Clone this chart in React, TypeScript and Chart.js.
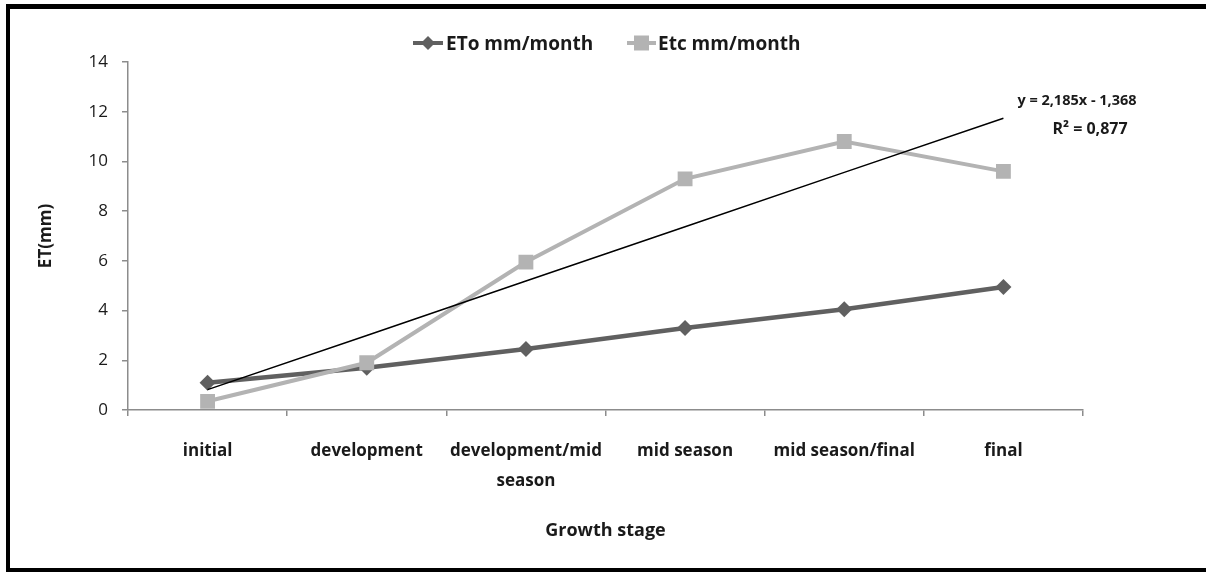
import React, { useEffect, useRef } from "react";
import { Chart, registerables } from "chart.js";

Chart.register(...registerables);

const categories: (string | string[])[] = [
  "initial",
  "development",
  ["development/mid", "season"],
  "mid season",
  "mid season/final",
  "final",
];
const etoValues = [1.1, 1.7, 2.45, 3.3, 4.05, 4.95];
const etcValues = [0.35, 1.9, 5.95, 9.3, 10.8, 9.6];
const trendValues = [0.82, 3.0, 5.19, 7.37, 9.56, 11.74];
const trendEquation = "y = 2,185x - 1,368";
const trendR2 = "R² = 0,877";
const legendLabels = ["ETo mm/month", "Etc mm/month"];
const yTicks = [0, 2, 4, 6, 8, 10, 12, 14];

const FONT = "'Open Sans', sans-serif";
const ETO_COLOR = "#606060";
const ETC_COLOR = "#b3b3b3";
const AXIS_COLOR = "#8c8c8c";

export default function App() {
  const ref = useRef<HTMLCanvasElement | null>(null);

  useEffect(() => {
    if (!ref.current) return;

    const framePlugin = {
      id: "frame",
      beforeDraw(chart: any) {
        const ctx = chart.ctx;
        ctx.save();
        ctx.fillStyle = "#ffffff";
        ctx.fillRect(0, 0, chart.width, chart.height);
        ctx.fillStyle = "#000000";
        ctx.fillRect(6, 4, chart.width - 6, 5);
        ctx.fillRect(6, 4, 4, chart.height - 4);
        ctx.fillRect(6, 568, chart.width - 6, 4);
        ctx.restore();
      },
      afterDraw(chart: any) {
        const ctx = chart.ctx;
        ctx.save();
        // legend
        ctx.font = `bold 19px ${FONT}`;
        ctx.textBaseline = "middle";
        const ly = 43;
        // ETo
        ctx.strokeStyle = ETO_COLOR;
        ctx.lineWidth = 4;
        ctx.beginPath();
        ctx.moveTo(413, ly);
        ctx.lineTo(443, ly);
        ctx.stroke();
        ctx.fillStyle = ETO_COLOR;
        ctx.beginPath();
        ctx.moveTo(428, ly - 7);
        ctx.lineTo(435, ly);
        ctx.lineTo(428, ly + 7);
        ctx.lineTo(421, ly);
        ctx.closePath();
        ctx.fill();
        ctx.fillStyle = "#1a1a1a";
        ctx.textAlign = "left";
        ctx.fillText(legendLabels[0], 446, ly + 2);
        // Etc
        ctx.strokeStyle = ETC_COLOR;
        ctx.beginPath();
        ctx.moveTo(627, ly);
        ctx.lineTo(656, ly);
        ctx.stroke();
        ctx.fillStyle = ETC_COLOR;
        ctx.fillRect(634, ly - 7.5, 15, 15);
        ctx.fillStyle = "#1a1a1a";
        ctx.fillText(legendLabels[1], 658, ly + 2);
        // trend equation
        ctx.textAlign = "center";
        ctx.font = `bold 14.5px ${FONT}`;
        ctx.fillText(trendEquation, 1077, 101);
        ctx.font = `bold 16px ${FONT}`;
        ctx.fillText(trendR2, 1090, 129);
        ctx.restore();
      },
    };

    const chart = new Chart(ref.current, {
      type: "line",
      data: {
        labels: categories,
        datasets: [
          {
            label: "Linear (Etc mm/month)",
            data: trendValues,
            borderColor: "#000000",
            borderWidth: 1.5,
            pointRadius: 0,
            order: 0,
          },
          {
            label: legendLabels[1],
            data: etcValues,
            borderColor: ETC_COLOR,
            backgroundColor: ETC_COLOR,
            borderWidth: 4,
            pointStyle: "rect",
            pointRadius: 10.5,
            pointBorderWidth: 0,
            order: 1,
          },
          {
            label: legendLabels[0],
            data: etoValues,
            borderColor: ETO_COLOR,
            backgroundColor: ETO_COLOR,
            borderWidth: 4.5,
            pointStyle: "rectRot",
            pointRadius: 8,
            pointBorderWidth: 0,
            order: 2,
          },
        ],
      },
      options: {
        animation: false,
        responsive: false,
        maintainAspectRatio: false,
        layout: { padding: { left: 36, right: 123, top: 62, bottom: 30 } },
        plugins: {
          legend: { display: false },
          tooltip: { enabled: false },
        },
        scales: {
          x: {
            type: "category",
            offset: true,
            grid: {
              display: true,
              offset: true,
              drawOnChartArea: false,
              drawTicks: true,
              tickLength: 6,
              color: AXIS_COLOR,
              lineWidth: 1.5,
            },
            border: { display: true, color: AXIS_COLOR, width: 1.5 },
            ticks: {
              color: "#1a1a1a",
              font: { family: FONT, size: 17, weight: "bold", lineHeight: "30px" },
              padding: 20,
              maxRotation: 0,
              autoSkip: false,
            },
            title: {
              display: true,
              text: "Growth stage",
              color: "#1a1a1a",
              font: { family: FONT, size: 18, weight: "bold" },
              padding: { top: 0, bottom: 0 },
            },
            afterFit(scale: any) {
              scale.height = 132;
            },
          },
          y: {
            min: 0,
            max: 14,
            afterBuildTicks(scale: any) {
              scale.ticks = yTicks.map((v) => ({ value: v }));
            },
            grid: {
              display: true,
              drawOnChartArea: false,
              drawTicks: true,
              tickLength: 6,
              color: AXIS_COLOR,
              lineWidth: 1.5,
            },
            border: { display: true, color: AXIS_COLOR, width: 1.5 },
            ticks: {
              color: "#1a1a1a",
              font: { family: FONT, size: 17 },
              padding: 14,
            },
            title: {
              display: true,
              text: "ET(mm)",
              color: "#1a1a1a",
              font: { family: FONT, size: 17, weight: "bold" },
              padding: { top: 0, bottom: 0 },
            },
            afterFit(scale: any) {
              scale.width = 92;
            },
          },
        },
      },
      plugins: [framePlugin],
    } as any);

    return () => chart.destroy();
  }, []);

  return (
    <div style={{ position: "fixed", left: 0, top: 0, width: 1206, height: 572 }}>
      <canvas ref={ref} width={1206} height={572} style={{ display: "block" }} />
    </div>
  );
}
